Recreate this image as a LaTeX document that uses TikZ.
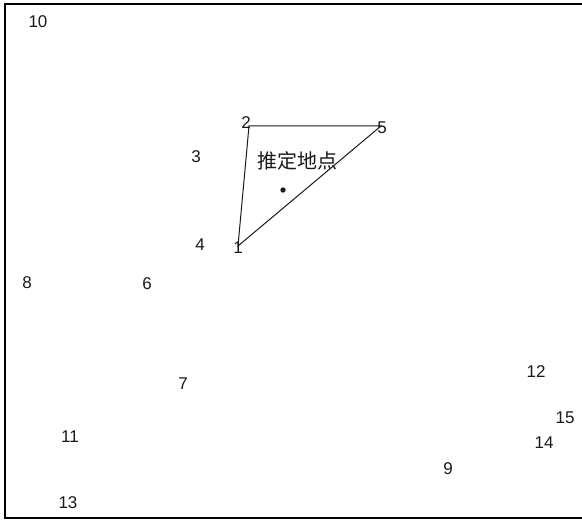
\documentclass[tikz,border=0pt]{standalone}
\usepackage{fontspec}
\setmainfont{Liberation Sans}
\newfontfamily\cjk{Noto Sans CJK SC}
\definecolor{ink}{HTML}{1A1A1A}
\begin{document}
\begin{tikzpicture}[x=1pt,y=-1pt,
  lbl/.style={font=\fontsize{17}{17}\selectfont, text=ink, inner sep=0pt},
  frameline/.style={draw=black, line width=1.4pt},
  edge/.style={draw=ink, line width=1pt}]
\useasboundingbox (0,0) rectangle (582,521);
\fill[white] (0,0) rectangle (582,521);
% frame (top, left, bottom)
\coordinate (tr) at (582,4);
\coordinate (tl) at (5,4);
\coordinate (bl) at (5,518);
\coordinate (br) at (582,518);
\draw[frameline] (tr) -- (tl) -- (bl) -- (br);
% triangle
\coordinate (v2) at (249,126);
\coordinate (v5) at (381,126);
\coordinate (v1) at (238,246);
\draw[edge] (v2) -- (v5) -- (v1) -- cycle;
% estimated point
\fill[ink] (283,190) circle (2.7) coordinate (est);
\node[lbl, font=\cjk\fontsize{20}{20}\selectfont] (estlbl) at (297,161) {推定地点};
% labels
\node[lbl] (n10) at (38,22) {10};
\node[lbl] (n2) at (246,123) {2};
\node[lbl] (n5) at (382,128) {5};
\node[lbl] (n3) at (196,157) {3};
\node[lbl] (n4) at (200,245) {4};
\node[lbl] (n1) at (238,248) {1};
\node[lbl] (n8) at (27,283) {8};
\node[lbl] (n6) at (147,284) {6};
\node[lbl] (n7) at (183,384) {7};
\node[lbl] (n12) at (536,372) {12};
\node[lbl] (n15) at (565,418) {15};
\node[lbl] (n14) at (544,443) {14};
\node[lbl] (n11) at (70,437) {11};
\node[lbl] (n9) at (448,469) {9};
\node[lbl] (n13) at (68,503) {13};
\end{tikzpicture}
\end{document}
